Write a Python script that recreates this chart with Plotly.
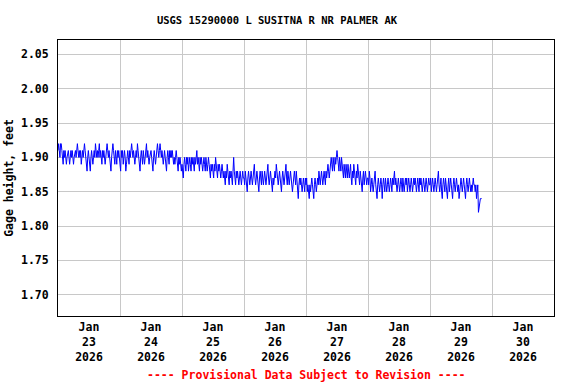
import pandas as pd
import plotly.graph_objects as go

# Gage height, hundredths of a foot, 15-minute readings per day
jan23 = [191,192,191,190,192,192,191,190,189,191,190,191,190,189,190,191,
         191,190,189,190,191,190,191,190,189,190,191,191,190,191,192,191,
         190,191,190,191,189,190,191,190,191,192,191,190,189,188,190,191,
         190,189,188,190,191,190,189,190,191,190,192,191,190,191,190,191,
         192,190,191,190,189,191,190,191,190,189,190,191,192,191,190,191,
         190,189,188,190,191,192,191,190,189,191,190,189,191,190,191,190]
jan24 = [190,188,191,190,191,189,190,191,190,188,189,190,191,190,189,191,
         190,191,192,191,190,191,190,189,190,191,190,192,191,190,189,188,
         190,191,190,189,191,190,189,190,191,192,190,191,190,189,190,191,
         191,190,189,188,190,191,190,189,190,191,192,191,190,191,192,191,
         190,191,190,189,190,191,190,189,188,190,191,190,189,191,190,191,
         190,191,190,189,190,189,190,191,190,189,188,190,189,190,189,188]
jan25 = [189,188,187,189,190,189,188,190,189,190,188,189,190,189,188,190,
         189,190,189,188,190,189,190,191,189,190,189,188,190,189,190,189,
         188,189,190,189,188,190,189,188,189,190,189,188,187,189,188,189,
         188,187,189,188,190,189,188,187,189,188,189,188,187,188,189,188,
         187,188,187,186,188,187,189,188,187,186,188,187,188,187,186,188,
         190,188,187,186,188,187,188,187,186,187,188,187,186,187,188,187]
jan26 = [187,186,188,187,186,185,187,188,187,186,187,188,187,186,187,188,
         189,187,186,187,188,187,186,185,187,188,187,186,188,187,186,187,
         188,187,186,187,188,189,187,186,187,188,187,186,185,187,186,187,
         188,187,189,188,187,186,187,188,187,186,185,187,188,187,186,187,
         188,189,187,186,188,187,186,187,188,187,186,185,186,187,188,187,
         186,188,187,186,184,186,187,186,187,186,185,186,187,186,185,187]
jan27 = [186,187,185,186,185,184,186,185,186,187,186,185,184,186,187,186,
         185,186,187,186,188,187,186,187,188,187,186,187,188,187,186,188,
         187,188,189,188,187,188,189,190,189,188,190,189,188,190,189,190,
         191,190,189,188,190,189,188,190,189,188,187,189,188,187,189,188,
         187,189,188,187,188,189,187,186,188,187,189,188,187,186,188,187,
         189,188,187,186,188,187,186,185,187,188,186,187,188,187,186,187]
jan28 = [187,186,188,187,185,186,187,186,185,186,187,188,186,185,184,186,
         187,186,185,186,187,186,184,186,187,186,185,187,186,185,186,187,
         186,185,186,187,186,185,187,186,187,188,186,187,186,185,186,187,
         186,185,186,187,186,185,187,186,185,186,187,186,187,185,186,187,
         186,185,186,187,186,185,186,187,186,187,186,185,186,187,186,185,
         187,186,187,186,185,186,187,186,185,186,187,186,185,186,187,186]
jan29 = [186,187,185,186,187,186,185,186,187,186,185,186,187,188,186,185,
         186,187,185,184,186,187,186,185,187,186,185,184,186,187,185,186,
         187,186,185,184,186,187,186,185,186,187,186,185,186,184,185,186,
         187,186,185,186,187,186,185,184,186,187,186,185,186,187,186,185,
         186,185,186,187,186,186,185,186,184,186,186,182,183,183,184,184,184]

day_labels = ["Jan<br>23<br>2026", "Jan<br>24<br>2026", "Jan<br>25<br>2026", "Jan<br>26<br>2026",
              "Jan<br>27<br>2026", "Jan<br>28<br>2026", "Jan<br>29<br>2026", "Jan<br>30<br>2026"]
day_noons = ["2026-01-23 12:00", "2026-01-24 12:00", "2026-01-25 12:00", "2026-01-26 12:00",
             "2026-01-27 12:00", "2026-01-28 12:00", "2026-01-29 12:00", "2026-01-30 12:00"]
y_ticks = [1.70, 1.75, 1.80, 1.85, 1.90, 1.95, 2.00, 2.05]

values = [v / 100 for v in jan23 + jan24 + jan25 + jan26 + jan27 + jan28 + jan29]
times = pd.date_range("2026-01-23 00:00", periods=len(values), freq="15min")

font = "DejaVu Sans Mono"
fig = go.Figure()
fig.add_trace(go.Scatter(x=times, y=values, mode="lines",
                         line=dict(color="#0000ff", width=1),
                         hoverinfo="skip", showlegend=False))

fig.update_layout(
    width=576, height=384,
    margin=dict(l=58, r=22, t=40, b=68),
    paper_bgcolor="white", plot_bgcolor="white",
    title=dict(text="<b>USGS 15290000 L SUSITNA R NR PALMER AK</b>",
               x=277/576, xanchor="center", y=1-20/384, yanchor="middle",
               font=dict(family=font, size=10.5, color="black")),
    xaxis=dict(type="date", range=["2026-01-23 00:00", "2026-01-31 00:00"],
               tickmode="array", tickvals=day_noons, ticktext=["<b>%s</b>" % t for t in day_labels],
               showgrid=False, ticks="", tickfont=dict(family=font, size=11.5, color="black"),
               showline=True, mirror=True, linecolor="black", linewidth=1,
               minor=dict(tick0="2026-01-23", dtick=86400000, showgrid=True,
                          gridcolor="#c8c8c8", gridwidth=1, ticks=""),
               zeroline=False, fixedrange=True, automargin=False),
    yaxis=dict(range=[1.669, 2.071], tickmode="array", tickvals=y_ticks,
               ticktext=["<b>%.2f</b>" % v for v in y_ticks],
               showgrid=True, gridcolor="#c8c8c8", gridwidth=1, ticks="",
               ticklabelstandoff=6,
               tickfont=dict(family=font, size=11.5, color="black"),
               showline=True, mirror=True, linecolor="black", linewidth=1,
               title=dict(text="<b>Gage height, feet</b>", standoff=4,
                          font=dict(family=font, size=11.5, color="black")),
               zeroline=False, fixedrange=True, automargin=False),
    annotations=[dict(text="<b>---- Provisional Data Subject to Revision ----</b>",
                      xref="paper", yref="paper", x=0.5, y=-(375-316)/276, yanchor="middle",
                      showarrow=False, font=dict(family=font, size=11.5, color="#ff0000"))],
)

fig.write_html("out.html", config={"displayModeBar": False},
               post_script="document.body.style.margin='0';document.body.style.overflow='hidden';")
